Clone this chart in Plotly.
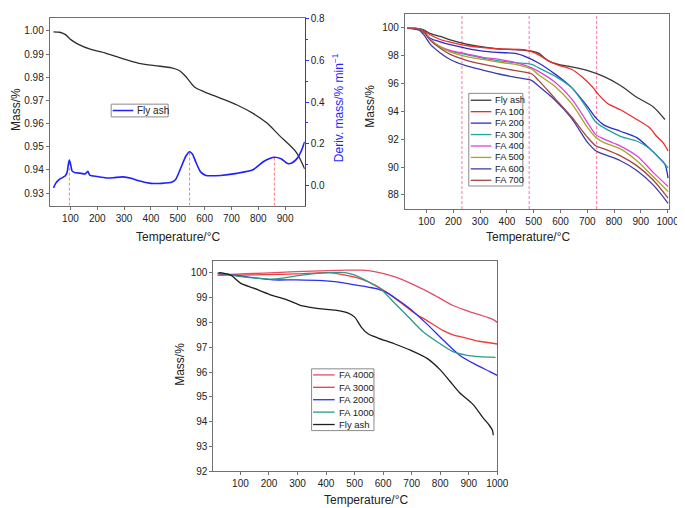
import plotly.graph_objects as go

W, H = 685, 508
FONT = "Liberation Sans, Arial, Helvetica, sans-serif"

# ---------------- Panel A : fly ash TG / DTG ----------------
a_temp_mass = [37, 60, 80, 104, 130, 171, 233, 294, 355, 415, 477, 507, 532, 562,
               599, 660, 721, 782, 831, 880, 941, 973]
a_mass = [0.9996, 0.9994, 0.9985, 0.9960, 0.9942, 0.9922, 0.9903, 0.9880, 0.9860,
          0.9850, 0.9840, 0.9828, 0.9800, 0.9758, 0.9737, 0.9709, 0.9680, 0.9643,
          0.9603, 0.9547, 0.9477, 0.9404]
a_temp_deriv = [37, 45, 60, 80, 88, 92, 96, 101, 106, 115, 140, 155, 165, 172, 200,
                233, 260, 294, 330, 355, 400, 440, 477, 492, 510, 530, 544, 555, 568,
                585, 605, 660, 720, 780, 820, 845, 860, 885, 910, 925, 945, 960, 973]
a_deriv = [-0.012, 0.010, 0.030, 0.045, 0.065, 0.100, 0.122, 0.100, 0.070, 0.062,
           0.058, 0.055, 0.068, 0.050, 0.043, 0.036, 0.037, 0.041, 0.033, 0.022,
           0.010, 0.010, 0.015, 0.028, 0.080, 0.140, 0.162, 0.150, 0.110, 0.065,
           0.048, 0.048, 0.058, 0.075, 0.115, 0.130, 0.135, 0.128, 0.105, 0.108,
           0.130, 0.165, 0.210]
a_peak_temps = [96, 544, 860]
a_peak_vals = [0.122, 0.162, 0.135]
a_xticks = [100, 200, 300, 400, 500, 600, 700, 800, 900]
a_yticks = [0.93, 0.94, 0.95, 0.96, 0.97, 0.98, 0.99, 1.00]
a_y2ticks = [0.0, 0.2, 0.4, 0.6, 0.8]
a_name = "Fly ash"

# ---------------- Panel B : FA 100 ... FA 700 ----------------
b_names = ["Fly ash", "FA 100", "FA 200", "FA 300", "FA 400", "FA 500", "FA 600", "FA 700"]
b_colors = ["#3a3a3a", "#ee2b2b", "#2b2bc8", "#23a3a3", "#e040e0", "#a6a622", "#3c3ca8", "#a84444"]
b_temps = [
    [27, 50, 72, 90, 115, 151, 188, 249, 310, 371, 432, 493, 518, 555, 592, 641, 702, 763, 824, 885, 947, 990],
    [27, 50, 72, 90, 115, 151, 188, 249, 310, 371, 469, 506, 530, 555, 592, 641, 678, 721, 739, 776, 824, 885, 934, 959, 983, 1002],
    [27, 50, 72, 90, 115, 151, 188, 249, 310, 371, 432, 469, 518, 580, 641, 702, 733, 763, 824, 885, 934, 971, 990, 1002],
    [27, 50, 72, 90, 115, 151, 188, 249, 310, 371, 432, 493, 518, 580, 641, 702, 733, 824, 885, 934, 971, 1002],
    [27, 50, 72, 90, 115, 151, 188, 249, 310, 371, 432, 493, 518, 580, 641, 702, 733, 763, 824, 885, 947, 1002],
    [27, 50, 72, 90, 115, 151, 188, 249, 310, 371, 432, 493, 518, 580, 641, 702, 733, 763, 824, 885, 947, 1002],
    [27, 50, 72, 90, 115, 151, 188, 249, 310, 371, 432, 493, 518, 580, 641, 702, 733, 763, 824, 885, 947, 1002],
    [27, 50, 72, 90, 115, 151, 188, 249, 310, 371, 432, 493, 518, 580, 641, 702, 733, 763, 824, 885, 947, 1002],
]
b_values = [
    [99.93, 99.92, 99.90, 99.80, 99.55, 99.35, 99.10, 98.80, 98.60, 98.45, 98.40, 98.30, 98.15, 97.60, 97.35, 97.17, 96.90, 96.47, 95.84, 95.00, 94.30, 93.40],
    [99.93, 99.92, 99.88, 99.75, 99.45, 99.13, 98.95, 98.70, 98.55, 98.45, 98.38, 98.15, 97.90, 97.60, 97.30, 97.00, 96.50, 95.70, 95.25, 94.55, 94.10, 93.40, 92.80, 92.20, 91.75, 91.15],
    [99.93, 99.92, 99.88, 99.70, 99.20, 98.96, 98.76, 98.50, 98.30, 98.20, 98.13, 97.90, 97.45, 96.65, 95.70, 94.30, 93.50, 93.00, 92.56, 92.10, 91.30, 90.60, 90.20, 89.20],
    [99.93, 99.92, 99.88, 99.65, 99.10, 98.60, 98.30, 98.05, 97.80, 97.60, 97.47, 97.35, 97.10, 96.50, 95.70, 94.10, 93.20, 92.20, 91.86, 91.30, 90.60, 89.95],
    [99.93, 99.92, 99.88, 99.65, 99.10, 98.60, 98.35, 98.10, 97.85, 97.70, 97.47, 97.10, 96.85, 96.07, 94.90, 93.15, 92.30, 92.00, 91.50, 90.80, 89.60, 88.60],
    [99.93, 99.92, 99.88, 99.65, 99.10, 98.60, 98.25, 97.90, 97.70, 97.50, 97.35, 97.00, 96.60, 95.77, 94.55, 92.80, 92.10, 91.75, 91.30, 90.45, 89.30, 88.25],
    [99.93, 99.90, 99.80, 99.46, 98.76, 98.17, 97.70, 97.24, 96.94, 96.66, 96.42, 96.19, 95.80, 94.78, 93.50, 91.74, 91.15, 90.90, 90.45, 89.75, 88.70, 87.40],
    [99.93, 99.92, 99.88, 99.65, 99.05, 98.50, 98.06, 97.64, 97.36, 97.12, 96.90, 96.66, 96.20, 94.90, 93.60, 92.10, 91.50, 91.30, 90.80, 90.10, 89.05, 87.77],
]
b_marker_temps = [232, 483, 735]
b_xticks = [100, 200, 300, 400, 500, 600, 700, 800, 900, 1000]
b_yticks = [88, 90, 92, 94, 96, 98, 100]

# ---------------- Panel C : FA 1000 ... FA 4000 ----------------
c_names = ["FA 4000", "FA 3000", "FA 2000", "FA 1000", "Fly ash"]
c_colors = ["#e34d68", "#f23a3a", "#2e2ef0", "#2a9a8c", "#1e1e1e"]
c_temps = [
    [20, 100, 180, 295, 410, 478, 524, 570, 639, 708, 776, 845, 914, 983, 1000],
    [20, 100, 180, 295, 410, 467, 524, 570, 616, 662, 708, 754, 811, 845, 891, 937, 1000],
    [20, 100, 157, 215, 295, 387, 430, 501, 547, 582, 616, 650, 696, 754, 811, 868, 926, 972, 1000],
    [20, 100, 157, 203, 249, 295, 352, 410, 467, 501, 547, 593, 639, 685, 742, 800, 845, 891, 937, 994],
    [25, 66, 100, 146, 203, 261, 318, 375, 432, 478, 501, 524, 547, 582, 639, 696, 754, 800, 834, 868, 914, 949, 972, 983, 986],
]
c_values = [
    [99.90, 99.95, 99.98, 100.04, 100.08, 100.10, 100.10, 100.04, 99.84, 99.51, 99.12, 98.68, 98.39, 98.13, 98.00],
    [99.90, 99.90, 99.92, 99.95, 100.00, 99.90, 99.74, 99.51, 99.18, 98.79, 98.39, 98.07, 97.67, 97.50, 97.37, 97.24, 97.13],
    [99.97, 99.87, 99.78, 99.71, 99.71, 99.68, 99.64, 99.51, 99.42, 99.34, 99.18, 98.92, 98.53, 97.93, 97.28, 96.68, 96.29, 96.03, 95.87],
    [100.00, 99.84, 99.78, 99.74, 99.78, 99.87, 99.95, 100.00, 100.00, 99.90, 99.64, 99.32, 98.79, 98.26, 97.60, 97.14, 96.82, 96.68, 96.62, 96.59],
    [100.00, 99.90, 99.58, 99.38, 99.12, 98.92, 98.66, 98.55, 98.49, 98.37, 98.20, 97.80, 97.54, 97.37, 97.14, 96.88, 96.55, 96.09, 95.63, 95.17, 94.71, 94.18, 93.86, 93.66, 93.46],
]
c_xticks = [100, 200, 300, 400, 500, 600, 700, 800, 900, 1000]
c_yticks = [92, 93, 94, 95, 96, 97, 98, 99, 100]


def fx(px):
    return px / W


def fy(py):
    return 1 - py / H


fig = go.Figure()

# Panel A traces
fig.add_trace(go.Scatter(x=a_temp_mass, y=a_mass, mode="lines", name=a_name,
                         line=dict(color="#2e2e2e", width=1.3, shape="spline", smoothing=0.8),
                         xaxis="x", yaxis="y", showlegend=False))
fig.add_trace(go.Scatter(x=a_temp_deriv, y=a_deriv, mode="lines", name=a_name,
                         line=dict(color="#1f1fff", width=1.6, shape="spline", smoothing=0.6),
                         xaxis="x", yaxis="y2", showlegend=False))

# Panel B traces
for n, c, t, v in zip(b_names, b_colors, b_temps, b_values):
    fig.add_trace(go.Scatter(x=t, y=v, mode="lines", name=n,
                             line=dict(color=c, width=1.3, shape="spline", smoothing=0.8),
                             xaxis="x2", yaxis="y3", showlegend=False))

# Panel C traces
for n, c, t, v in zip(c_names, c_colors, c_temps, c_values):
    fig.add_trace(go.Scatter(x=t, y=v, mode="lines", name=n,
                             line=dict(color=c, width=1.3, shape="spline", smoothing=0.8),
                             xaxis="x3", yaxis="y4", showlegend=False))

AX = "#707070"
TICKF = dict(family=FONT, size=10, color="#222")
common = dict(showline=True, linecolor=AX, linewidth=1, ticks="outside", ticklen=3,
              tickcolor=AX, showgrid=False, zeroline=False, tickfont=TICKF)

a_yrange = [0.9246, 1.0056]
a_y2range = [-0.097, 0.805]

fig.update_layout(
    width=W, height=H, autosize=False,
    margin=dict(l=0, r=0, t=0, b=0),
    paper_bgcolor="white", plot_bgcolor="white",
    showlegend=False,
    font=dict(family=FONT, color="#222"),
    xaxis=dict(domain=[fx(42.5), fx(302)], anchor="y", range=[23, 973],
               tickvals=a_xticks, mirror=True, **common),
    yaxis=dict(domain=[fy(197.5), fy(6)], anchor="x", range=a_yrange,
               tickvals=a_yticks, tickformat=".2f", **common),
    yaxis2=dict(overlaying="y", side="right", anchor="x", range=a_y2range,
                tickvals=a_y2ticks, tickformat=".1f", showline=True, linecolor="#3030ff",
                linewidth=1, ticks="outside", ticklen=3, tickcolor="#3030ff",
                showgrid=False, zeroline=False, tickfont=TICKF,
                minor=dict(dtick=0.1, ticklen=2, tickcolor="#3030ff", ticks="outside")),
    xaxis2=dict(domain=[fx(404), fx(672.7)], anchor="y3", range=[19, 1005],
                tickvals=b_xticks, mirror=True, **common),
    yaxis3=dict(domain=[fy(201), fy(1.7)], anchor="x2", range=[86.99, 100.98],
                tickvals=b_yticks, mirror=True, **common),
    xaxis3=dict(domain=[fx(209), fx(498)], anchor="y4", range=[5, 1000],
                tickvals=c_xticks, mirror=True, **common),
    yaxis4=dict(domain=[fy(468.7), fy(254)], anchor="x3", range=[92, 100.47],
                tickvals=c_yticks, mirror=True, **common),
)

shapes = []
# Panel A: dashed markers from bottom up to each DTG peak
for t, v in zip(a_peak_temps, a_peak_vals):
    shapes.append(dict(type="line", xref="x", yref="y2", x0=t, x1=t,
                       y0=a_y2range[0], y1=v,
                       line=dict(color="#ff7a7a", width=1, dash="3px,2px"), layer="below"))
# Panel B: full-height dashed markers
for t in b_marker_temps:
    shapes.append(dict(type="line", xref="x2", yref="y3 domain", x0=t, x1=t, y0=0, y1=1,
                       line=dict(color="#ff7a9a", width=1, dash="3px,2px"), layer="below"))

annotations = []


def add_legend(names, colors, box, line_x0, line_x1, text_x, row_y0, row_step, fsize, lw):
    x0, y0, x1, y1 = box
    shapes.append(dict(type="rect", xref="paper", yref="paper",
                       x0=fx(x0), x1=fx(x1), y0=fy(y1), y1=fy(y0),
                       line=dict(color="#8a8a8a", width=1), fillcolor="white", layer="above"))
    for i, (n, c) in enumerate(zip(names, colors)):
        yy = row_y0 + i * row_step
        shapes.append(dict(type="line", xref="paper", yref="paper",
                           x0=fx(line_x0), x1=fx(line_x1), y0=fy(yy), y1=fy(yy),
                           line=dict(color=c, width=lw), layer="above"))
        annotations.append(dict(text=n, xref="paper", yref="paper", x=fx(text_x), y=fy(yy),
                                xanchor="left", yanchor="middle", showarrow=False,
                                font=dict(family=FONT, size=fsize, color="#222")))


add_legend([a_name], ["#1f1fff"], (105, 94, 163, 107), 106.5, 127.5, 129, 100.5, 0, 10, 1.5)
add_legend(b_names, b_colors, (469, 83, 524, 177.5), 471, 492, 493.5, 90, 11.67, 9.3, 1.3)
add_legend(c_names, c_colors, (309, 364, 372.5, 427), 310.5, 332.5, 335, 370.2, 12.65, 9.5, 1.3)


def title(text, x, y, angle=0, color="#222"):
    annotations.append(dict(text=text, xref="paper", yref="paper", x=fx(x), y=fy(y),
                            xanchor="center", yanchor="middle", showarrow=False,
                            textangle=angle, font=dict(family=FONT, size=12, color=color)))


title("Mass/%", 8, 99, -90)
title("Deriv. mass/% min<sup>\u22121</sup>", 336, 98, -90, "#1f1fff")
title("Temperature/\u00b0C", 173, 230)
title("Mass/%", 369, 96, -90)
title("Temperature/\u00b0C", 529, 230)
title("Mass/%", 175, 359, -90)
title("Temperature/\u00b0C", 364, 498)

fig.update_layout(shapes=shapes, annotations=annotations)

fig.write_html("out.html")
